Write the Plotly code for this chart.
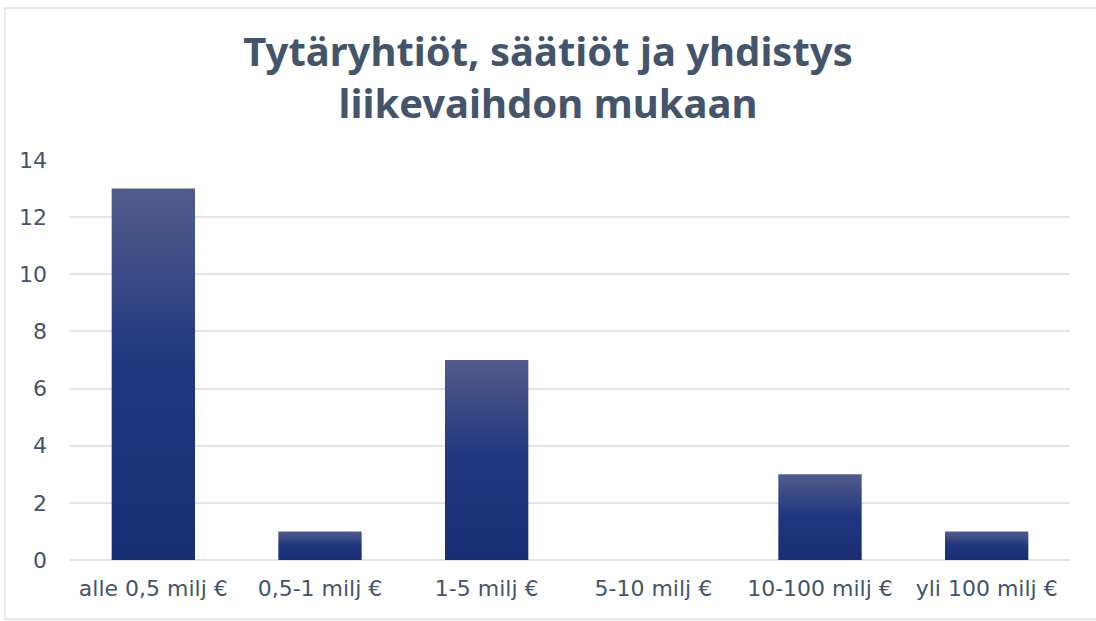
import plotly.graph_objects as go

categories = ["alle 0,5 milj €", "0,5-1 milj €", "1-5 milj €", "5-10 milj €", "10-100 milj €", "yli 100 milj €"]
values = [13, 1, 7, 0, 3, 1]
y_ticks = [0, 2, 4, 6, 8, 10, 12, 14]

TITLE = "Tytäryhtiöt, säätiöt ja yhdistys<br>liikevaihdon mukaan"
TEXT_COLOR = "#44546A"
GRID_COLOR = "#E1E4EB"
BAR_BOTTOM = "#1A2E74"
BAR_MID = "#1F3580"
BAR_TOP = "#525C8A"
HALF_W = 0.25

fig = go.Figure()
for i, (cat, v) in enumerate(zip(categories, values)):
    if v <= 0:
        continue
    fig.add_trace(go.Scatter(
        x=[i - HALF_W, i + HALF_W, i + HALF_W, i - HALF_W, i - HALF_W],
        y=[0, 0, v, v, 0],
        mode="lines",
        line=dict(width=0),
        fill="toself",
        fillgradient=dict(type="vertical",
                          colorscale=[[0, BAR_BOTTOM], [0.5, BAR_MID], [1, BAR_TOP]]),
        name=cat,
        hoverinfo="text",
        text=f"{cat}: {v}",
        showlegend=False,
    ))

fig.update_layout(
    width=1096, height=621,
    margin=dict(l=70, r=26, t=160, b=61),
    paper_bgcolor="white", plot_bgcolor="white",
    title=dict(text=TITLE, x=0.5, xanchor="center", y=0.894, yanchor="top",
               font=dict(family="Noto Sans, sans-serif", size=40,
                         color=TEXT_COLOR, weight="bold")),
    xaxis=dict(range=[-0.5, len(categories) - 0.5], tickvals=list(range(len(categories))),
               ticktext=categories, showgrid=False, zeroline=False, showline=False,
               ticks="", ticklabelstandoff=13,
               tickfont=dict(family="DejaVu Sans, sans-serif", size=22, color=TEXT_COLOR)),
    yaxis=dict(range=[0, 14], tickvals=y_ticks, showgrid=True, gridcolor=GRID_COLOR, gridwidth=1.5,
               zeroline=True, zerolinecolor=GRID_COLOR, zerolinewidth=1.5, showline=False,
               ticks="", ticklabelstandoff=22,
               tickfont=dict(family="DejaVu Sans, sans-serif", size=22, color=TEXT_COLOR)),
    shapes=[dict(type="rect", xref="paper", yref="paper", x0=-0.065, x1=1.04, y0=-0.148, y1=1.38,
                 line=dict(color="#DFE2E8", width=1.5), fillcolor="rgba(0,0,0,0)", layer="below")],
)

fig.write_html("out.html", config={"displayModeBar": False},
               post_script="document.body.style.margin='0';")
